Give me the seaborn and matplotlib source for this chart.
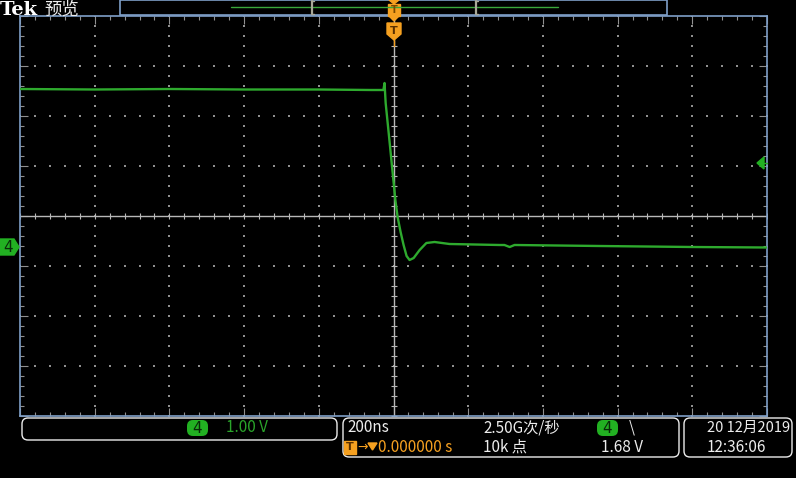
import numpy as np
import pandas as pd
import matplotlib
matplotlib.use("Agg")
import matplotlib.pyplot as plt
from matplotlib.patches import Polygon, Rectangle, FancyBboxPatch
import seaborn as sns

# ---- data (channel 4, 200 ns/div, 1.00 V/div) ----
time_ns = [-1000, -800, -600, -400, -200, -60, -27, -24, -21, -11, -3, 5, 11, 19, 27,
           35, 43, 54, 70, 88, 110, 150, 284, 297, 311, 324, 551, 800, 1000]
volts = [3.16, 3.15, 3.16, 3.15, 3.15, 3.14, 3.14, 3.28, 2.88, 2.14, 1.54, 0.94, 0.60, 0.30, 0.04,
         -0.18, -0.26, -0.22, -0.06, 0.08, 0.10, 0.06, 0.04, 0.04, 0.00, 0.04, 0.02, 0.00, -0.01]

ch_label = "4"
vdiv_label = "1.00 V"
timebase_label = "200ns"
trig_pos_label = "0.000000 s"
rate_label = "2.50G次/秒"
points_label = "10k 点"
trig_level_label = "1.68 V"
date_label = "20 12月2019"
clock_label = "12:36:06"
trig_level_v = 1.68

sns.set_style("dark")
plt.rcParams['font.family'] = ['Noto Sans CJK SC', 'DejaVu Sans']

W, H = 796, 478
fig = plt.figure(figsize=(W / 100, H / 100), dpi=100, facecolor="black")

# main graticule axes: x 20..767 px, y 16..416 px
L, R, T, B = 20, 767, 16, 416
ax = fig.add_axes([L / W, (H - B) / H, (R - L) / W, (B - T) / H])
ax.set_facecolor("black")
ymin, ymax = -3.38, 4.62
ax.set_xlim(-1000, 1000)
ax.set_ylim(ymin, ymax)

grid_c = "#909090"
# dotted graticule
hv = [ymax - k for k in range(1, 8) if k != 4]
tx = np.arange(-1000, 1001, 40)
for v in hv:
    ax.scatter(tx, np.full_like(tx, v, dtype=float), s=1.5, marker="s", color=grid_c, linewidths=0, zorder=1)
vt = [t for t in range(-800, 801, 200) if t != 0]
vy = np.arange(ymin, ymax + 0.01, 0.2)
for t in vt:
    ax.scatter(np.full_like(vy, t), vy, s=1.5, marker="s", color=grid_c, linewidths=0, zorder=1)
# center crosshair
yc = ymax - 4
ax.axhline(yc, color="#b8b8b8", lw=1.0, zorder=2)
ax.axvline(0, color="#b8b8b8", lw=1.0, zorder=2)
ax.plot(tx, np.full_like(tx, yc, dtype=float), ls="none", marker="|", ms=5, mew=0.8, color="#b8b8b8", zorder=2)
ax.plot(np.zeros_like(vy), vy, ls="none", marker="_", ms=5, mew=0.8, color="#b8b8b8", zorder=2)

# edge ticks
ax.set_xticks(np.arange(-1000, 1001, 200))
ax.set_xticks(np.arange(-1000, 1001, 40), minor=True)
ax.set_yticks(np.arange(ymin, ymax + 0.01, 1.0))
ax.set_yticks(vy, minor=True)
ax.tick_params(which="both", direction="in", top=True, right=True, bottom=True, left=True,
               labelbottom=False, labelleft=False, color=grid_c)
ax.tick_params(which="major", length=6, width=0.8)
ax.tick_params(which="minor", length=3, width=0.8)
for sp in ax.spines.values():
    sp.set_color("#7f9fc8")
    sp.set_linewidth(1.2)
ax.grid(False)

df = pd.DataFrame({"t": time_ns, "v": volts})
sns.lineplot(data=df, x="t", y="v", ax=ax, color="#2eaa2e", lw=1.7, zorder=5, sort=False)
ax.set_xlabel("")
ax.set_ylabel("")

# ---- overlay in pixel coordinates ----
ov = fig.add_axes([0, 0, 1, 1], zorder=10)
ov.set_xlim(0, W)
ov.set_ylim(H, 0)
ov.axis("off")
ov.patch.set_alpha(0)

white = "#ececec"
orange = "#f5a020"
green = "#22b022"
blue = "#7f9fc8"

# title
ov.text(0, 10, "Tek", color="white", fontsize=14, fontweight="bold", va="center", ha="left",
        family=["DejaVu Serif"])
ov.text(44, 10, "预览", color=white, fontsize=12.5, va="center", ha="left")

# top record bar
ov.add_patch(Rectangle((120, 0), 547, 15, fill=False, ec=blue, lw=1.2))
ov.plot([231, 558], [7, 7], color="#3aa83a", lw=1.0)
for bx in (312, 476):
    ov.plot([bx, bx], [1, 14], color="#a8a898", lw=1.6)
    ov.plot([bx - 1, bx + 2], [1, 1], color="#a8a898", lw=1.0)
    ov.plot([bx - 1, bx + 2], [14, 14], color="#a8a898", lw=1.0)

# trigger position markers
ov.add_patch(Polygon([(389, 0), (399, 0), (394, 4)], closed=True, color=orange))
ov.add_patch(Rectangle((388, 4), 12, 12, color=orange))
ov.text(394, 10, "T", color="#7a4a00", fontsize=7, fontweight="bold", ha="center", va="center",
        family=["DejaVu Sans"])
ov.add_patch(Polygon([(389, 16), (399, 16), (394, 21)], closed=True, color=orange))
ov.add_patch(Polygon([(387, 23), (401, 23), (401, 34), (394, 40), (387, 34)], closed=True, color=orange))
ov.text(394, 30.5, "T", color="#5a3000", fontsize=8, fontweight="bold", ha="center", va="center",
        family=["DejaVu Sans"])
ov.plot([394, 394], [40, 46], color=orange, lw=1.0)

# channel ground marker (0 V at y = 247)
ov.add_patch(Polygon([(0, 239), (14, 239), (19, 247), (14, 255), (0, 255)], closed=True, color=green))
ov.text(8, 247.5, ch_label, color="#0a2a0a", fontsize=11, ha="center", va="center", family=["DejaVu Sans"])

# trigger level marker on right
ty = 247 - trig_level_v * 50
ov.add_patch(Polygon([(757, ty), (764, ty - 6), (764, ty + 6)], closed=True, color=green))
ov.plot([764, 767], [ty, ty], color=green, lw=1.0)

# bottom status boxes
def rbox(x0, y0, x1, y1):
    ov.add_patch(FancyBboxPatch((x0 + 5, y0 + 4), (x1 - x0) - 10, (y1 - y0) - 8,
                                boxstyle="round,pad=4,rounding_size=6", fill=False, ec=white, lw=1.0))

rbox(21, 418, 338, 440)
rbox(342, 418, 680, 457)
rbox(683, 418, 793, 457)

def badge(x0, x1, y):
    ov.add_patch(FancyBboxPatch((x0 + 5, y - 5), (x1 - x0) - 10, 10,
                                boxstyle="round,pad=3,rounding_size=6", color=green, ec="none"))
    ov.text((x0 + x1) / 2, y + 0.5, ch_label, color="#082808", fontsize=11, ha="center", va="center",
            family=["DejaVu Sans"])

fs = 11
badge(185, 210, 428)
ov.text(226, 428, vdiv_label, color="#2aa52a", fontsize=fs, va="center", ha="left")

ov.text(347, 428, timebase_label, color=white, fontsize=fs, va="center", ha="left")
ov.add_patch(Rectangle((344, 441), 12, 13, color=orange))
ov.text(350, 447.5, "T", color="#5a3000", fontsize=8, fontweight="bold", ha="center", va="center",
        family=["DejaVu Sans"])
ov.text(357, 447, "\u2192", color=orange, fontsize=9, va="center", ha="left", family=["DejaVu Sans"])
ov.add_patch(Polygon([(368, 443), (377, 443), (372.5, 450)], closed=True, color=orange))
ov.text(378, 447, trig_pos_label, color=orange, fontsize=fs, va="center", ha="left")
ov.text(483, 428, rate_label, color=white, fontsize=fs, va="center", ha="left")
ov.text(483, 447, points_label, color=white, fontsize=fs, va="center", ha="left")
badge(595, 620, 428)
ov.text(629, 428, "\\", color=white, fontsize=fs, va="center", ha="left")
ov.text(601, 447, trig_level_label, color=white, fontsize=fs, va="center", ha="left")

ov.text(707, 428, date_label, color=white, fontsize=10.5, va="center", ha="left")
ov.text(707, 447, clock_label, color=white, fontsize=fs, va="center", ha="left")

fig.savefig("out.png", dpi=100, facecolor="black")
